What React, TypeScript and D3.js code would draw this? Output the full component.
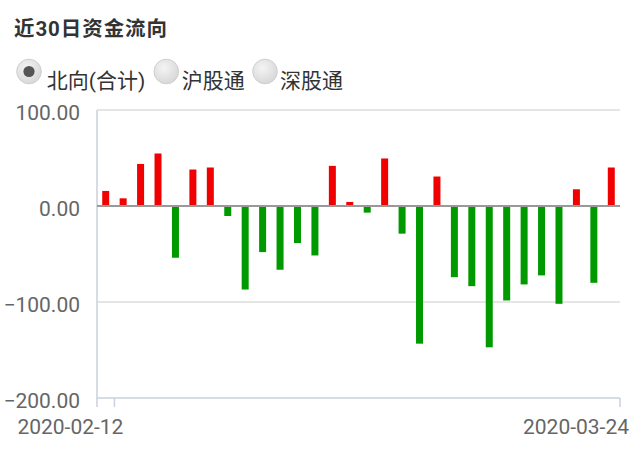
import React from "react";
import * as d3 from "d3";

const dates = [
  "2020-02-12","2020-02-13","2020-02-14","2020-02-17","2020-02-18","2020-02-19","2020-02-20","2020-02-21",
  "2020-02-24","2020-02-25","2020-02-26","2020-02-27","2020-02-28","2020-03-02","2020-03-03","2020-03-04",
  "2020-03-05","2020-03-06","2020-03-09","2020-03-10","2020-03-11","2020-03-12","2020-03-13","2020-03-16",
  "2020-03-17","2020-03-18","2020-03-19","2020-03-20","2020-03-23","2020-03-24",
];
const values = [
  15.7, 8.0, 43.8, 54.7, -53.9, 38.0, 40.1, -10.4, -87.0, -48.0, -66.4, -38.6, -51.5, 41.8, 4.2, -6.9,
  49.5, -28.8, -143.4, 30.7, -74.1, -83.5, -147.2, -98.4, -81.7, -72.3, -101.9, 17.4, -80.0, 40.1,
];
const yTicks = [100, 0, -100, -200];
const xTickLabels = ["2020-02-12", "2020-03-24"];
const radioLabels = ["北向(合计)", "沪股通", "深股通"];
const title = "近30日资金流向";

const W = 638, H = 453;
const left = 97, right = 620, top = 110, bottom = 398;
const FONT = "Roboto, 'Noto Sans CJK SC', sans-serif";

export default function App() {
  const x = d3.scaleBand<string>().domain(dates).range([left, right]).padding(0);
  const y = d3.scaleLinear().domain([-200, 100]).range([bottom, top]);
  const step = x.step();
  const bw = 7;
  const fmt = d3.format(".2f");
  const radioX = [29, 166.3, 265];
  const labelX = [46.7, 181.7, 280];

  return (
    <svg width={W} height={H} style={{ position: "absolute", left: 0, top: 0, background: "#fff" }} fontFamily={FONT}>
      <defs>
        <radialGradient id="rg" cx="40%" cy="35%" r="70%">
          <stop offset="0%" stopColor="#f4f4f4" />
          <stop offset="100%" stopColor="#d6d6d6" />
        </radialGradient>
      </defs>
      <text x={14} y={35.5} fontSize={20.5} fontWeight="bold" fill="#333" textLength={153} lengthAdjust="spacing">{title}</text>
      {radioLabels.map((l, i) => (
        <g key={l}>
          <circle cx={radioX[i]} cy={71.5} r={12.3} fill="url(#rg)" stroke="#cfcfcf" strokeWidth={1} />
          {i === 0 && <circle cx={radioX[i]} cy={71.5} r={5.6} fill="#555" />}
          <text x={labelX[i]} y={87.5} fontSize={21} fill="#333">{l}</text>
        </g>
      ))}
      {yTicks.filter(t => t !== 0 && t !== -200).map(t => (
        <line key={t} x1={left} x2={right} y1={y(t)} y2={y(t)} stroke="#cccccc" strokeWidth={1.2} />
      ))}
      {yTicks.map(t => (
        <text key={"l" + t} x={80} y={y(t) + 10} fontSize={21} fill="#666" textAnchor="end">{fmt(t)}</text>
      ))}
      <line x1={left} x2={left} y1={top} y2={bottom + 9} stroke="#c9d1dc" strokeWidth={1.5} />
      <line x1={left} x2={right} y1={bottom} y2={bottom} stroke="#c9d1dc" strokeWidth={1.5} />
      {xTickLabels.map(d => {
        const tx = (x(d) as number) + step;
        return (
          <g key={d}>
            <line x1={tx} x2={tx} y1={bottom} y2={bottom + 9} stroke="#c9d1dc" strokeWidth={1.5} />
            <text x={tx + 9} y={434} fontSize={21} fill="#666" textAnchor="end">{d}</text>
          </g>
        );
      })}
      {values.map((v, i) => {
        const cx = (x(dates[i]) as number) + step / 2;
        return (
          <rect key={i} x={cx - bw / 2} width={bw} y={Math.min(y(v), y(0))} height={Math.abs(y(v) - y(0))}
            fill={v >= 0 ? "#f00000" : "#009a00"} />
        );
      })}
      <line x1={left} x2={right} y1={y(0)} y2={y(0)} stroke="#999" strokeWidth={2} />
    </svg>
  );
}
